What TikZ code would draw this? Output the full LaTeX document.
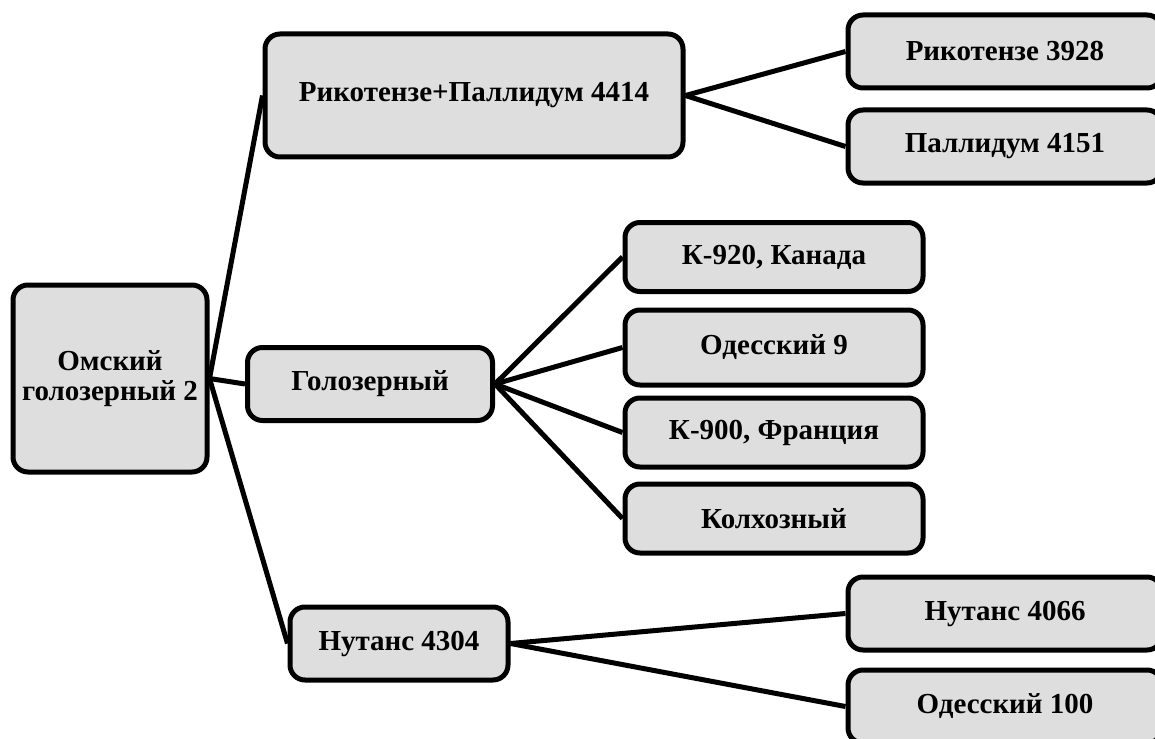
\documentclass[tikz,border=0pt]{standalone}
\usepackage{fontspec}
\setmainfont{Liberation Serif}
\definecolor{boxgray}{HTML}{DEDEDE}

\begin{document}
\begin{tikzpicture}[x=1pt,y=-1pt,
    box/.style={draw=black, line width=5pt, rounded corners=15pt, fill=boxgray,
      font=\fontsize{29}{34}\selectfont\bfseries, align=center, inner sep=0pt},
    link/.style={line width=5pt}]
    \useasboundingbox (0,0) rectangle (1155,738);
    \clip (0,0) rectangle (1155,738);
    % Root
    \node [box, minimum width=194pt, minimum height=187pt,
      font=\fontsize{29}{30}\selectfont\bfseries] (omsk) at (110,378.5) {Омский\\голозерный 2};
    % First level
    \node [box, minimum width=418pt, minimum height=123pt] (rp4414) at (474,95.5) {Рикотензе+Паллидум 4414};
    \node [box, minimum width=245pt, minimum height=73pt] (goloz) at (370,384) {Голозерный};
    \node [box, minimum width=218pt, minimum height=73pt] (n4304) at (399,643.5) {Нутанс 4304};
    % Second level, top
    \node [box, minimum width=314pt, minimum height=73pt] (r3928) at (1005,51.5) {Рикотензе 3928};
    \node [box, minimum width=314pt, minimum height=73pt] (p4151) at (1005,146.5) {Паллидум 4151};
    % Second level, middle
    \node [box, minimum width=298pt, minimum height=69pt] (k920) at (774,257) {К-920, Канада};
    \node [box, minimum width=298pt, minimum height=75pt] (od9) at (774,347.5) {Одесский 9};
    \node [box, minimum width=298pt, minimum height=69pt] (k900) at (774,432.5) {К-900, Франция};
    \node [box, minimum width=298pt, minimum height=69pt] (kolh) at (774,518.5) {Колхозный};
    % Second level, bottom
    \node [box, minimum width=314pt, minimum height=73pt] (n4066) at (1005,613.5) {Нутанс 4066};
    \node [box, minimum width=314pt, minimum height=73pt] (od100) at (1005,706.5) {Одесский 100};
    % Root links
    \draw [link] (omsk.east) -- (rp4414.west);
    \draw [link] (omsk.east) -- (goloz.west);
    \draw [link] (omsk.east) -- (n4304.west);
    % Upper links
    \draw [link] (rp4414.east) -- (r3928.west);
    \draw [link] (rp4414.east) -- (p4151.west);
    % Middle links
    \draw [link] (goloz.east) -- (k920.west);
    \draw [link] (goloz.east) -- (od9.west);
    \draw [link] (goloz.east) -- (k900.west);
    \draw [link] (goloz.east) -- (kolh.west);
    % Lower links
    \draw [link] (n4304.east) -- (n4066.west);
    \draw [link] (n4304.east) -- (od100.west);
\end{tikzpicture}
\end{document}
